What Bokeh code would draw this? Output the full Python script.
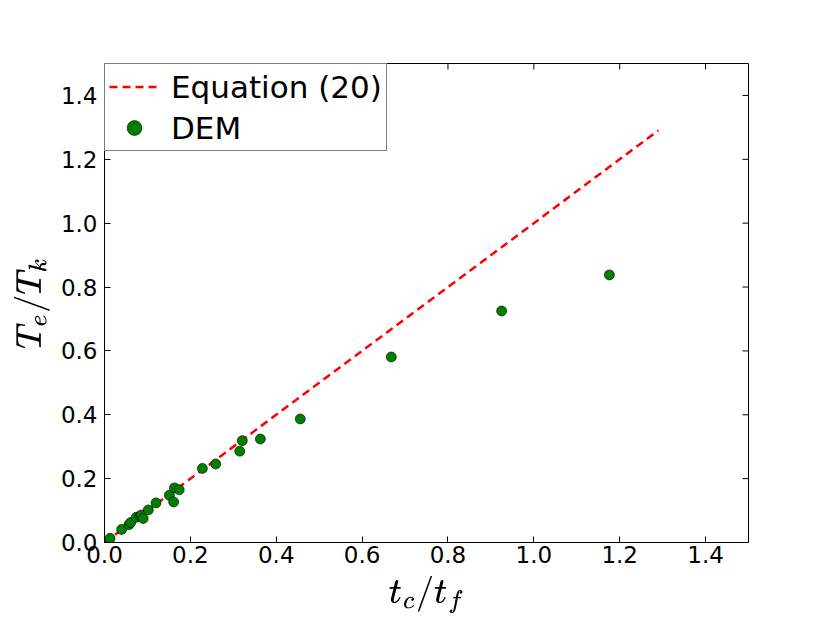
import math
from bokeh.plotting import figure
from bokeh.models import Range1d, FixedTicker, NumeralTickFormatter, Legend, LegendItem
from bokeh.embed import file_html
from bokeh.resources import INLINE

# data
dem_x = [0.013, 0.040, 0.057, 0.061, 0.074, 0.083, 0.086, 0.090, 0.102, 0.120,
         0.151, 0.161, 0.163, 0.174, 0.228, 0.259, 0.315, 0.321, 0.363, 0.456,
         0.668, 0.925, 1.176]
dem_y = [0.013, 0.041, 0.056, 0.0625, 0.079, 0.083, 0.086, 0.075, 0.102, 0.124,
         0.148, 0.127, 0.171, 0.165, 0.232, 0.246, 0.286, 0.319, 0.324, 0.387,
         0.581, 0.725, 0.838]
eq_x = [0.0, 1.29]
eq_y = [0.0, 1.29]
ticks = [0.0, 0.2, 0.4, 0.6, 0.8, 1.0, 1.2, 1.4]
axis_max = 1.5

p = figure(width=814, height=617, output_backend="svg", toolbar_location=None,
           x_range=Range1d(0, axis_max), y_range=Range1d(0, axis_max),
           frame_width=644, frame_height=479,
           min_border_left=104, min_border_top=63, min_border_right=66, min_border_bottom=75,
           x_axis_label=r"$$t_c/t_f$$", y_axis_label=r"$$T_e/T_k$$")
p.grid.visible = False
p.outline_line_color = "black"
p.outline_line_width = 1
p.background_fill_color = "white"
p.border_fill_color = "white"

for ax in (p.xaxis[0], p.yaxis[0]):
    ax.ticker = FixedTicker(ticks=ticks)
    ax.formatter = NumeralTickFormatter(format="0.0")
    ax.major_tick_in = 6
    ax.major_tick_out = 0
    ax.minor_tick_line_color = None
    ax.axis_line_color = None
    ax.major_tick_line_color = "black"
    ax.major_label_text_font = "DejaVu Sans"
    ax.major_label_text_font_size = "23px"
    ax.major_label_text_color = "black"
    ax.axis_label_text_font_size = "29px"
    ax.axis_label_text_color = "black"
p.xaxis[0].major_label_standoff = 3
p.yaxis[0].major_label_standoff = 7
p.xaxis[0].axis_label_standoff = 10
p.yaxis[0].axis_label_standoff = 8

# inward tick marks on the top and right edges (clipped to the frame)
p.scatter(ticks, [axis_max] * len(ticks), marker="dash", angle=math.pi / 2, size=12,
          line_color="black", line_width=1)
p.scatter([axis_max] * len(ticks), ticks, marker="dash", size=12,
          line_color="black", line_width=1)

line_r = p.line(eq_x, eq_y, line_color="red", line_width=2.5, line_dash="8 5")
pts_r = p.scatter(dem_x, dem_y, size=10, fill_color="green", line_color="black", line_width=0.6)

legend = Legend(items=[LegendItem(label="Equation (20)", renderers=[line_r]),
                       LegendItem(label="DEM", renderers=[pts_r])],
                location="top_left", margin=0, padding=4, spacing=4,
                glyph_width=50, glyph_height=37, label_height=37,
                label_text_font="DejaVu Sans", label_text_font_size="31px",
                label_text_color="black",
                label_standoff=12, border_line_color="black", border_line_width=1,
                background_fill_alpha=1.0)
p.add_layout(legend)

open("out.html", "w").write(file_html(p, INLINE))
